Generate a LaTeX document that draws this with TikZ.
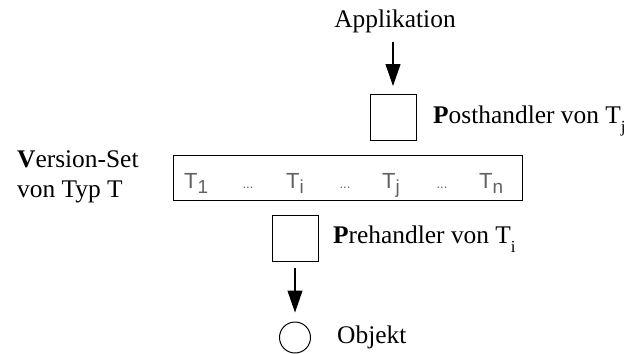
\documentclass[tikz,border=0pt]{standalone}
\usepackage{fontspec}
\setmainfont{Liberation Serif}
\newfontfamily\labelsans{Liberation Sans}
\usetikzlibrary{arrows.meta}
% lowered subscripts for the serif labels and for the sans type names
\newcommand\serifsub[1]{\raisebox{-9bp}{\fontsize{17}{17}\selectfont #1}}
\newcommand\sanssub[1]{\raisebox{-5bp}{\fontsize{19}{19}\selectfont #1}}
\begin{document}
\begin{tikzpicture}[x=1bp,y=-1bp,
  txt/.style={inner sep=0pt, anchor=base west, font=\fontsize{25.5}{30}\selectfont},
  handlerbox/.style={draw, line width=1bp, minimum width=46bp, minimum height=46bp, inner sep=0pt},
  setbox/.style={draw, line width=1bp, minimum width=349bp, minimum height=45bp, inner sep=0pt},
  objcircle/.style={draw, circle, line width=1bp, minimum size=31bp, inner sep=0pt},
  flow/.style={line width=1.1bp, -{Triangle[length=22bp,width=15bp]}},
  tname/.style={inner sep=0pt, anchor=base west, text=black!62, font=\labelsans\fontsize{22}{24}\selectfont},
  tdots/.style={inner sep=0pt, anchor=base, text=black!62, font=\labelsans\fontsize{13}{14}\selectfont}]
\useasboundingbox (0,0) rectangle (630,353);

% caller at the top
\node[txt, anchor=base] (app) at (395,27) {Applikation};

% handler boxes and the version set
\node[handlerbox] (post) at (393,117.5) {};
\node[setbox] (vset) at (347.5,177.5) {};
\node[handlerbox] (pre) at (295,238.5) {};
\node[objcircle] (obj) at (295,337.5) {};

% type names inside the version set
\node[tname] (t1) at (184,188) {T\sanssub{1}};
\node[tdots] (d1) at (248,188) {...};
\node[tname] (ti) at (286,188) {T\sanssub{i}};
\node[tdots] (d2) at (345,188) {...};
\node[tname] (tj) at (382,188) {T\sanssub{j}};
\node[tdots] (d3) at (442,188) {...};
\node[tname] (tn) at (479,188) {T\sanssub{n}};

% labels
\node[txt] (postlbl) at (433,123) {\textbf{P}osthandler von T\serifsub{j}};
\node[txt] (prelbl) at (333,243) {\textbf{P}rehandler von T\serifsub{i}};
\node[txt] (vs1) at (17,167) {\textbf{V}ersion-Set};
\node[txt] (vs2) at (17,197) {von Typ T};
\node[txt] (objlbl) at (337,343) {Objekt};

% call flow
\draw[flow, shorten >=8bp] ([yshift=-9bp]app.south -| post.north) -- (post.north);
\draw[flow, shorten <=6bp, shorten >=9bp] (pre.south) -- (obj.north);
\end{tikzpicture}
\end{document}
